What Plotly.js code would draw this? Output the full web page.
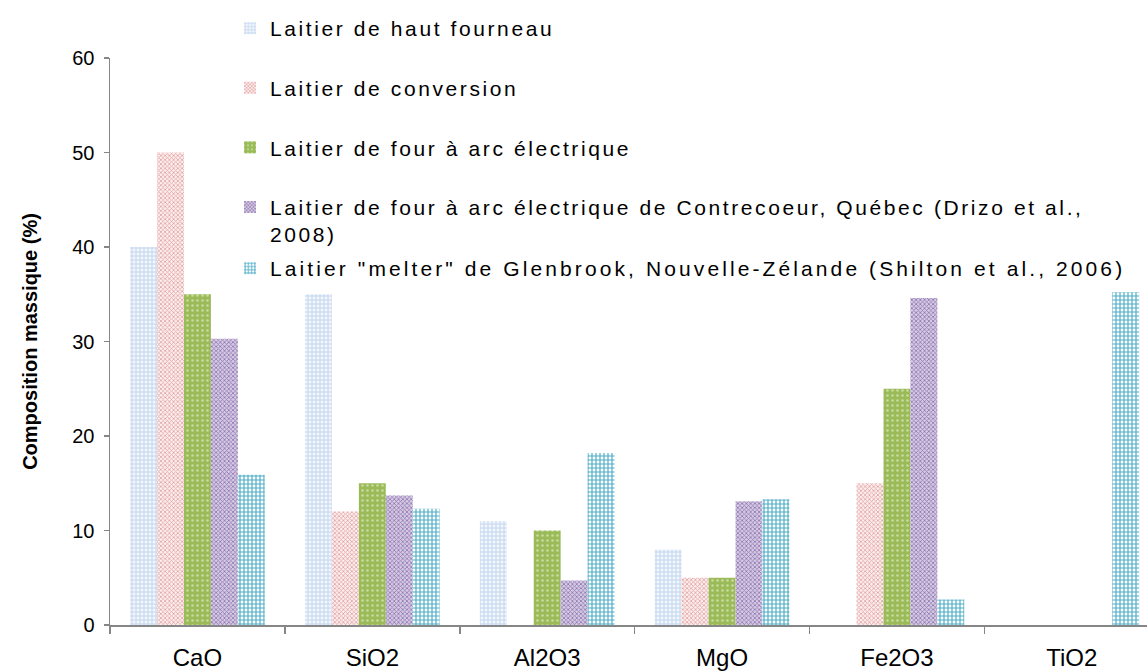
<!DOCTYPE html>
<html>
<head>
<meta charset="utf-8">
<script src="https://cdn.plot.ly/plotly-3.0.1.min.js"></script>
<style>
html,body{margin:0;padding:0;overflow:hidden;background:#fff}
svg text.legendtext{letter-spacing:2.6px !important}
</style>
</head>
<body>
<div id="chart" style="width:1147px;height:671px"></div>
<script>
const categories = ["CaO", "SiO2", "Al2O3", "MgO", "Fe2O3", "TiO2"];
const seriesNames = [
  "Laitier de haut fourneau",
  "Laitier de conversion",
  "Laitier de four à arc électrique",
  "Laitier de four à arc électrique de Contrecoeur, Québec (Drizo et al.,<br>2008)",
  "Laitier \"melter\" de Glenbrook, Nouvelle-Zélande (Shilton et al., 2006)"
];
const hautFourneau = [40, 35, 11, 8, null, null];
const conversion = [50, 12, null, 5, 15, null];
const arcElectrique = [35, 15, 10, 5, 25, null];
const contrecoeur = [30.3, 13.7, 4.7, 13.1, 34.6, null];
const glenbrook = [15.9, 12.3, 18.2, 13.3, 2.7, 35.2];

const values = [hautFourneau, conversion, arcElectrique, contrecoeur, glenbrook];
const patterns = [
  {shape: "+", fgcolor: "#b8cfec", bgcolor: "#f2f6fc", size: 4, solidity: 0.35, fillmode: "replace"},
  {shape: "x", fgcolor: "#e2a2a1", bgcolor: "#fbeeee", size: 3, solidity: 0.45, fillmode: "replace"},
  {shape: ".", fgcolor: "#c8dca0", bgcolor: "#9bbb59", size: 5, solidity: 0.2, fillmode: "replace"},
  {shape: "x", fgcolor: "#8e74b0", bgcolor: "#d5cae3", size: 3, solidity: 0.45, fillmode: "replace"},
  {shape: "+", fgcolor: "#4bacc6", bgcolor: "#ffffff", size: 4, solidity: 0.5, fillmode: "replace"}
];
const baseColors = ["#c6d9f1", "#e6b9b8", "#9bbb59", "#b3a2c7", "#4bacc6"];

const traces = values.map((v, i) => ({
  type: "bar",
  name: seriesNames[i],
  x: categories,
  y: v,
  marker: {color: baseColors[i], line: {width: 0}, pattern: patterns[i]},
  legend: i === 4 ? "legend2" : "legend",
  legendgroup: "g" + i,
  hoverinfo: "skip"
}));

const fam = "Liberation Sans, Arial, sans-serif";

const layout = {
  width: 1147,
  height: 671,
  margin: {l: 110, r: 0, t: 58, b: 46, autoexpand: false},
  paper_bgcolor: "#fff",
  plot_bgcolor: "#fff",
  font: {family: fam, color: "#000"},
  barmode: "group",
  bargap: 0.23,
  bargroupgap: 0,
  showlegend: true,
  legend: {
    x: (230 - 110) / 1037, y: (625 - 8) / 567, xanchor: "left", yanchor: "top",
    bgcolor: "rgba(0,0,0,0)", borderwidth: 0,
    font: {family: fam, size: 21, color: "#000"},
    tracegroupgap: 29.3, valign: "top", traceorder: "grouped"
  },
  legend2: {
    x: (230 - 110) / 1037, y: (625 - 248) / 567, xanchor: "left", yanchor: "top",
    bgcolor: "rgba(0,0,0,0)", borderwidth: 0,
    font: {family: fam, size: 21, color: "#000"}
  },
  xaxis: {
    type: "category",
    range: [-0.5, 5.43],
    tickangle: 0,
    showline: true, linecolor: "#868686", linewidth: 1.5,
    ticks: "outside", tickson: "boundaries", ticklen: 7, tickcolor: "#868686", tickwidth: 1.5,
    showgrid: false, zeroline: false,
    tickfont: {family: fam, size: 24, color: "#000"},
    ticklabelstandoff: 11
  },
  yaxis: {
    range: [0, 60], dtick: 10, tick0: 0,
    showline: true, linecolor: "#868686", linewidth: 1.5,
    ticks: "outside", ticklen: 5, tickcolor: "#868686", tickwidth: 1.5,
    showgrid: false, zeroline: false,
    tickfont: {family: fam, size: 20, color: "#000"},
    ticklabelstandoff: 5,
    title: {text: "<b>Composition massique (%)</b>", font: {family: fam, size: 20, color: "#000"}, standoff: 29}
  }
};

Plotly.newPlot("chart", traces, layout, {displayModeBar: false, staticPlot: true}).then(gd => {
  gd.querySelectorAll(".infolayer g[class*='legend'] text").forEach(t => {
    const inSecond = !!t.closest("g.legend2");
    t.style.letterSpacing = inSecond ? "3.1px" : "2.6px";
  });
  gd.querySelectorAll(".infolayer g[class*='legend'][clip-path], .infolayer g[class*='legend'] [clip-path]").forEach(n => {
    n.removeAttribute("clip-path");
  });
});
</script>
</body>
</html>
